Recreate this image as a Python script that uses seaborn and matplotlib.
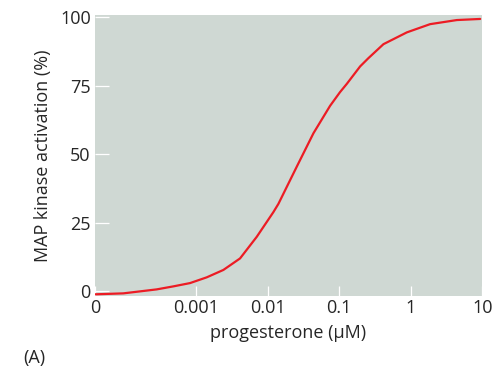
import matplotlib
matplotlib.use("Agg")
import matplotlib.pyplot as plt
import seaborn as sns

# progesterone concentration (uM) and MAP kinase activation (%)
conc = [0, 0.00028, 0.00061, 0.000775, 0.00094, 0.00141, 0.00241, 0.00412,
        0.00706, 0.01205, 0.01416, 0.0256, 0.0438, 0.0748, 0.103, 0.128,
        0.197, 0.257, 0.417, 0.885, 1.87, 4.43, 9.38]
activation = [-1.2, -0.85, 0.6, 1.7, 2.9, 5.0, 7.7, 11.9,
              19.8, 28.8, 31.8, 45.4, 57.6, 67.6, 72.6, 75.6,
              82.0, 85.0, 90.1, 94.4, 97.4, 98.9, 99.3]

x_ticks = [0, 0.001, 0.01, 0.1, 1, 10]
x_tick_labels = ["0", "0.001", "0.01", "0.1", "1", "10"]
y_ticks = [0, 25, 50, 75, 100]

sns.set_style("ticks")
plt.rcParams["font.family"] = ["Open Sans", "DejaVu Sans"]
text_color = "#262626"

fig = plt.figure(figsize=(4.92, 3.78), dpi=100)
ax = fig.add_axes([0.193, 0.217, 0.787, 0.743])
ax.set_facecolor("#cfd8d3")

sns.lineplot(x=conc, y=activation, ax=ax, color="#ec1c24", linewidth=1.6,
             solid_joinstyle="round", solid_capstyle="round")

ax.set_xscale("symlog", linthresh=1e-3, linscale=1.272)
ax.set_xlim(0, 10)
ax.set_ylim(-1.8, 100.7)
ax.set_xticks(x_ticks)
ax.set_xticklabels(x_tick_labels)
ax.xaxis.set_minor_locator(matplotlib.ticker.NullLocator())
ax.set_yticks(y_ticks)

for s in ax.spines.values():
    s.set_visible(False)

ax.tick_params(axis="x", direction="in", length=7, width=0.9, color="white",
               labelsize=13, labelcolor=text_color, pad=2)
ax.tick_params(axis="y", direction="in", length=10, width=0.9, color="white",
               labelsize=13, labelcolor=text_color, pad=3)

ax.set_xlabel("progesterone (\u03bcM)", fontsize=13, color=text_color, labelpad=5)
ax.set_ylabel("MAP kinase activation (%)", fontsize=13, color=text_color, labelpad=6)
fig.text(0.047, 0.04, "(A)", fontsize=13, color=text_color)

fig.savefig("out.png", dpi=100)
